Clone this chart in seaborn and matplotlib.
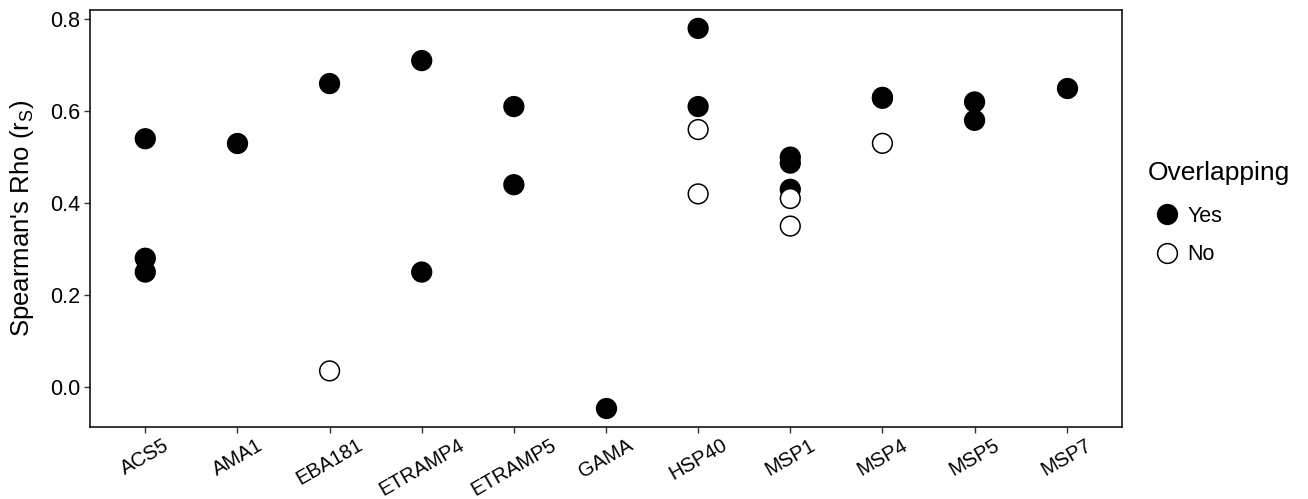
import matplotlib
matplotlib.use("Agg")
import matplotlib.pyplot as plt
import seaborn as sns
import pandas as pd
from matplotlib.lines import Line2D

categories = ["ACS5", "AMA1", "EBA181", "ETRAMP4", "ETRAMP5", "GAMA",
              "HSP40", "MSP1", "MSP4", "MSP5", "MSP7"]

antigen = ["ACS5", "ACS5", "ACS5", "AMA1", "EBA181", "EBA181",
           "ETRAMP4", "ETRAMP4", "ETRAMP5", "ETRAMP5", "GAMA",
           "HSP40", "HSP40", "HSP40", "HSP40",
           "MSP1", "MSP1", "MSP1", "MSP1", "MSP1",
           "MSP4", "MSP4", "MSP4", "MSP5", "MSP5", "MSP7"]
rho = [0.54, 0.28, 0.25, 0.53, 0.66, 0.035,
       0.71, 0.25, 0.61, 0.44, -0.045,
       0.78, 0.61, 0.56, 0.42,
       0.50, 0.487, 0.43, 0.41, 0.35,
       0.63, 0.628, 0.53, 0.62, 0.58, 0.65]
overlap = ["Yes", "Yes", "Yes", "Yes", "Yes", "No",
           "Yes", "Yes", "Yes", "Yes", "Yes",
           "Yes", "Yes", "No", "No",
           "Yes", "Yes", "Yes", "No", "No",
           "Yes", "Yes", "No", "Yes", "Yes", "Yes"]

df = pd.DataFrame({"Antigen": antigen, "Rho": rho, "Overlapping": overlap})

sns.set_theme(style="white")
plt.rcParams["font.family"] = ["Liberation Sans", "DejaVu Sans"]
plt.rcParams["mathtext.fontset"] = "custom"
plt.rcParams["mathtext.rm"] = "Liberation Sans"
plt.rcParams["mathtext.it"] = "Liberation Sans"
plt.rcParams["text.color"] = "black"

fig = plt.figure(figsize=(13.08, 4.99), dpi=100)
ax = fig.add_axes([90 / 1308, 1 - 427 / 499, (1122 - 90) / 1308, (427 - 10) / 499])

sns.stripplot(data=df, x="Antigen", y="Rho", hue="Overlapping",
              order=categories, hue_order=["No", "Yes"],
              palette={"Yes": "black", "No": "white"},
              jitter=False, dodge=False, size=14.2, linewidth=1.1,
              edgecolor="black", ax=ax, legend=False, zorder=3)

ax.set_xlim(-0.6, len(categories) - 0.4)
ax.set_ylim(-0.087, 0.82)
ax.set_yticks([0.0, 0.2, 0.4, 0.6, 0.8])
ax.set_yticklabels(["0.0", "0.2", "0.4", "0.6", "0.8"])
ax.set_xlabel("")
ax.set_ylabel(r"Spearman's Rho (r$_\mathrm{S}$)", fontsize=18.5, color="black", labelpad=10)

ax.tick_params(axis="both", which="both", direction="out", length=4, width=1,
               color="#333333", labelsize=15.5, labelcolor="black", bottom=True, left=True)
ax.tick_params(axis="x", pad=2, labelsize=14.5)
ax.tick_params(axis="y", pad=3)
for lbl in ax.get_xticklabels():
    lbl.set_rotation(30)
    lbl.set_ha("center")

for sp in ax.spines.values():
    sp.set_visible(True)
    sp.set_color("black")
    sp.set_linewidth(1.1)

fig.text(1148 / 1308, 1 - 173 / 499, "Overlapping", fontsize=19, color="black",
         ha="left", va="center")

handles = [
    Line2D([], [], marker="o", linestyle="", markersize=14.2, markerfacecolor="black",
           markeredgecolor="black", markeredgewidth=1.1, label="Yes"),
    Line2D([], [], marker="o", linestyle="", markersize=14.2, markerfacecolor="white",
           markeredgecolor="black", markeredgewidth=1.1, label="No"),
]
leg = fig.legend(handles=handles, loc="upper left",
                 bbox_to_anchor=(1154 / 1308, 1 - 206 / 499), frameon=False,
                 fontsize=15.5, handletextpad=0.35,
                 labelspacing=0.8, handlelength=1.2, borderpad=0, borderaxespad=0,
                 labelcolor="black")

fig.savefig("out.png", dpi=100)
